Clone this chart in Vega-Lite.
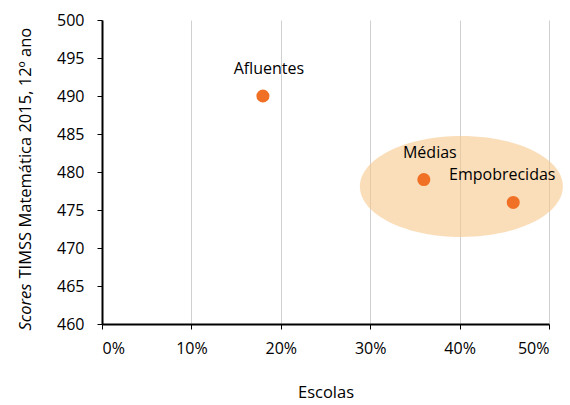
{
  "$schema": "https://vega.github.io/schema/vega-lite/v6.json",
  "width": 447,
  "height": 304,
  "autosize": {"type": "none"},
  "padding": {"left": 102, "top": 20, "right": 21, "bottom": 81},
  "background": "white",
  "config": {
    "view": {"stroke": null},
    "font": "Open Sans",
    "axis": {
      "labelFont": "Open Sans",
      "titleFont": "Open Sans",
      "labelFontSize": 16,
      "titleFontSize": 16.5,
      "labelColor": "#000000",
      "titleColor": "#000000",
      "titleFontWeight": "normal",
      "gridColor": "#d0d0d0",
      "gridWidth": 1,
      "domainColor": "#000000",
      "domainWidth": 2,
      "tickColor": "#000000",
      "tickSize": 5,
      "labelOverlap": false
    }
  },
  "resolve": {"axis": {"y": "independent"}},
  "datasets": {
    "groups": [
      {"grupo": "Afluentes", "escolas": 0.18, "score": 490},
      {"grupo": "Médias", "escolas": 0.36, "score": 479},
      {"grupo": "Empobrecidas", "escolas": 0.46, "score": 476}
    ],
    "zone": [
      {"escolas": 0.402, "score": 478.1}
    ]
  },
  "layer": [
    {
      "data": {"name": "zone"},
      "mark": {
        "type": "point",
        "shape": "M-1,0A1,0.4975 0 1,0 1,0A1,0.4975 0 1,0 -1,0Z",
        "size": 41209,
        "filled": true,
        "fill": "#F7C88A",
        "fillOpacity": 0.6,
        "strokeWidth": 0,
        "clip": false
      },
      "encoding": {
        "x": {"field": "escolas", "type": "quantitative"},
        "y": {
          "field": "score",
          "type": "quantitative",
          "axis": {
            "orient": "left",
            "title": "Scores",
            "titleFontStyle": "italic",
            "labels": false,
            "ticks": false,
            "domain": false,
            "grid": false,
            "titleX": -77,
            "titleY": 310,
            "titleAlign": "left",
            "titleBaseline": "middle",
            "titleAngle": -90
          }
        }
      }
    },
    {
      "data": {"name": "groups"},
      "mark": {"type": "circle", "size": 170, "color": "#F07125", "opacity": 1},
      "encoding": {
        "x": {
          "field": "escolas",
          "type": "quantitative",
          "scale": {"domain": [0, 0.5], "nice": false},
          "axis": {
            "title": "Escolas",
            "format": ".0%",
            "values": [0, 0.1, 0.2, 0.3, 0.4, 0.5],
            "labelPadding": 11,
            "titlePadding": 28
          }
        },
        "y": {
          "field": "score",
          "type": "quantitative",
          "scale": {"domain": [460, 500], "nice": false, "zero": false},
          "axis": {
            "orient": "left",
            "title": "TIMSS Matemática 2015, 12º ano",
            "values": [460, 465, 470, 475, 480, 485, 490, 495, 500],
            "labelPadding": 13,
            "titleX": -77,
            "titleY": 258,
            "titleAlign": "left",
            "titleBaseline": "middle",
            "titleAngle": -90
          }
        }
      }
    },
    {
      "data": {"name": "groups"},
      "transform": [{"filter": "datum.grupo !== 'Empobrecidas'"}],
      "mark": {"type": "text", "dy": -27, "dx": 6, "fontSize": 16, "font": "Open Sans", "color": "#000000"},
      "encoding": {
        "x": {"field": "escolas", "type": "quantitative"},
        "y": {"field": "score", "type": "quantitative", "axis": null},
        "text": {"field": "grupo"}
      }
    },
    {
      "data": {"name": "groups"},
      "transform": [{"filter": "datum.grupo === 'Empobrecidas'"}],
      "mark": {"type": "text", "dy": -27, "dx": -11, "fontSize": 16, "font": "Open Sans", "color": "#000000"},
      "encoding": {
        "x": {"field": "escolas", "type": "quantitative"},
        "y": {"field": "score", "type": "quantitative", "axis": null},
        "text": {"field": "grupo"}
      }
    }
  ]
}
